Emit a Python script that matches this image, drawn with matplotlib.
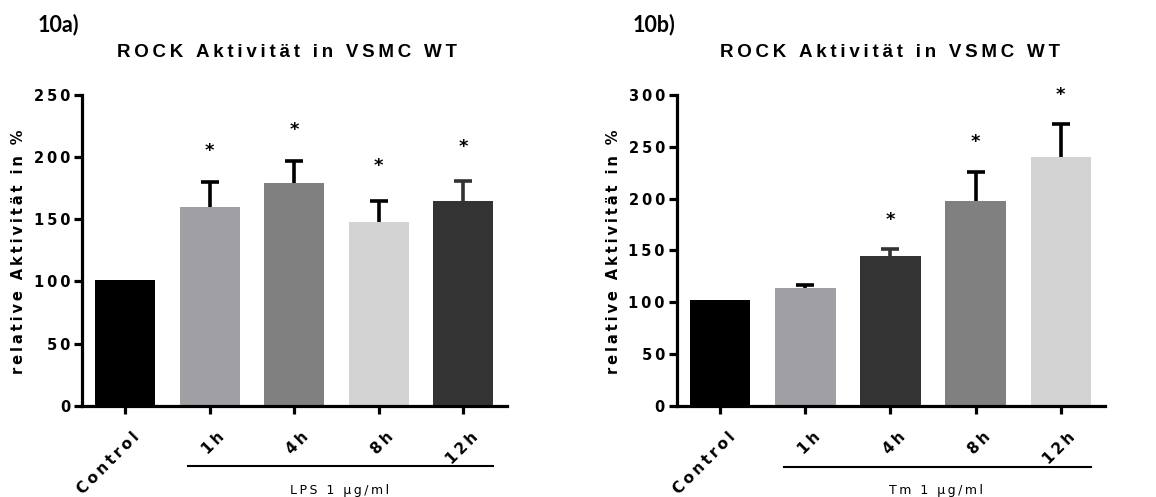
import matplotlib
matplotlib.use("Agg")
import matplotlib.pyplot as plt
import matplotlib.transforms as mtransforms

# ---------------- data ----------------
categories = ["Control", "1h", "4h", "8h", "12h"]

lps_values = [101, 160, 179, 148, 165]
lps_err = [0, 20, 18, 17, 16]
lps_sig = [None, 205, 222, 193, 208]
lps_colors = ["#000000", "#A0A0A4", "#808080", "#D3D3D3", "#333333"]

tm_values = [102, 114, 145, 198, 240]
tm_err = [0, 2.5, 6, 28, 32]
tm_sig = [None, None, 179, 255, 300]
tm_colors = ["#000000", "#A0A0A4", "#333333", "#808080", "#D3D3D3"]

lps_yticks = [0, 50, 100, 150, 200, 250]
tm_yticks = [0, 50, 100, 150, 200, 250, 300]

TS = "\u2009"  # thin space used for letter spacing


def sp(s, sep=TS):
    return sep.join(s)


plt.rcParams["font.family"] = ["DejaVu Sans"]
TITLE_FAM = ["Liberation Sans", "DejaVu Sans"]

fig = plt.figure(figsize=(11.56, 4.97), dpi=100)


def panel(rect, values, err, sig, colors, yticks, ymax, treat, letter, title_x, ylab_x):
    ax = fig.add_axes(rect)
    x = list(range(len(categories)))
    ax.bar(x, values, width=0.71, color=colors, edgecolor="none", zorder=2)
    for xi, v, e, c in zip(x, values, err, colors):
        if e > 0:
            ecol = "#333333" if c == "#333333" else "#000000"
            _, caps, _ = ax.errorbar(xi, v, yerr=[[0], [e]], fmt="none", ecolor=ecol,
                                     elinewidth=2.6, capsize=6.8, capthick=2.6, zorder=3)
            if len(caps) == 2:
                caps[0].set_visible(False)
    for xi, s in zip(x, sig):
        if s is not None:
            ax.text(xi, s, "*", ha="center", va="center", fontsize=13,
                    fontweight="bold", clip_on=False)
    ax.set_xlim(-0.51, len(categories) - 0.48)
    ax.set_ylim(0, ymax)
    for s in ["top", "right"]:
        ax.spines[s].set_visible(False)
    for s in ["left", "bottom"]:
        ax.spines[s].set_linewidth(2.3)
    ax.tick_params(axis="y", length=5.5, width=2.3, pad=3)
    ax.tick_params(axis="x", length=6, width=2.3, pad=11)
    ax.set_yticks(yticks)
    ax.set_yticklabels([sp(str(t)) for t in yticks], fontsize=10.5, fontweight="bold")
    ax.set_xticks(x)
    ax.set_xticklabels([sp(c) for c in categories], fontsize=11, fontweight="bold",
                       rotation=45, ha="right", va="top", rotation_mode="anchor")
    offset = mtransforms.ScaledTranslation(7 / 100, 0, fig.dpi_scale_trans)
    for lab in ax.get_xticklabels():
        lab.set_transform(lab.get_transform() + offset)
    # treatment bracket
    trans = mtransforms.blended_transform_factory(ax.transData, ax.transAxes)
    ax.plot([0.75, 4.35], [-0.195, -0.195], color="black", lw=1.5,
            transform=trans, clip_on=False)
    ax.text(2.54, -0.272, sp(treat), transform=trans, ha="center", va="center",
            fontsize=9)
    fig.text(title_x, 0.895, sp("ROCK Aktivität in VSMC WT"), ha="center", va="center",
             fontsize=13.5, fontweight="bold", family=TITLE_FAM)
    fig.text(rect[0] - 0.038, 0.95, letter, ha="left", va="center",
             fontsize=15.5, fontweight="bold", family=["Lato", "DejaVu Sans"])
    fig.text(ylab_x, 0.493, sp("relative Aktivität in %"), rotation=90,
             ha="center", va="center", fontsize=10.5, fontweight="bold")
    return ax


panel([0.0709, 0.1837, 0.3677, 0.6252], lps_values, lps_err, lps_sig, lps_colors,
      lps_yticks, 250, "LPS 1 µg/ml", "10a)", 0.248, 0.0156)
panel([0.5854, 0.1831, 0.3705, 0.6258], tm_values, tm_err, tm_sig, tm_colors,
      tm_yticks, 300, "Tm 1 µg/ml", "10b)", 0.770, 0.531)

fig.savefig("out.png", dpi=100)
